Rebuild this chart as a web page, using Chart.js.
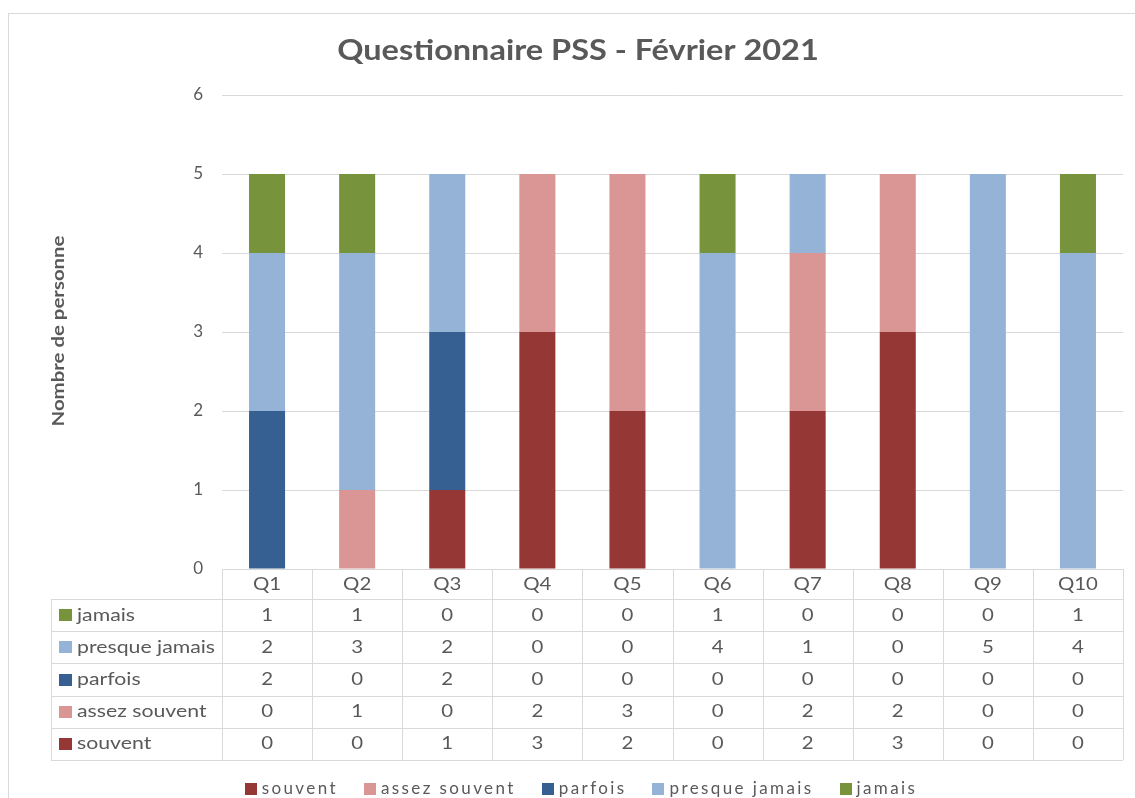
<!DOCTYPE html>
<html>
<head>
<meta charset="utf-8">
<script src="https://cdn.jsdelivr.net/npm/chart.js@4.4.1/dist/chart.umd.min.js"></script>
<style>
  html, body { margin: 0; padding: 0; background: #fff; }
  #wrap { width: 1135px; height: 798px; }
</style>
</head>
<body>
<div id="wrap"><canvas id="pssChart" width="1135" height="798"></canvas></div>
<script>
// categories and series
const questions = ['Q1', 'Q2', 'Q3', 'Q4', 'Q5', 'Q6', 'Q7', 'Q8', 'Q9', 'Q10'];
const souvent = [0, 0, 1, 3, 2, 0, 2, 3, 0, 0];
const assezSouvent = [0, 1, 0, 2, 3, 0, 2, 2, 0, 0];
const parfois = [2, 0, 2, 0, 0, 0, 0, 0, 0, 0];
const presqueJamais = [2, 3, 2, 0, 0, 4, 1, 0, 5, 4];
const jamais = [1, 1, 0, 0, 0, 1, 0, 0, 0, 1];
const yMin = 0;
const yMax = 6;
const yStep = 1;

const chartTitle = 'Questionnaire PSS - Février 2021';
const yTitle = 'Nombre de personne';

const textGray = '#595959';
const lineGray = '#d9d9d9';
const FONT = 'Lato, "Open Sans", sans-serif';

// the Excel export is a bit stretched sideways, so text gets a small x scale
function stretchText(ctx, text, x, y, align, sx) {
  ctx.save();
  ctx.translate(x, y);
  ctx.scale(sx, 1);
  ctx.textAlign = align;
  ctx.fillText(text, 0, 0);
  ctx.restore();
}

// draws frame, titles, the data table and the bottom legend
const excelExtras = {
  id: 'excelExtras',
  afterDraw(chart) {
    const ctx = chart.ctx;
    const area = chart.chartArea;
    const sets = chart.data.datasets;
    ctx.save();

    // outer frame
    ctx.strokeStyle = lineGray;
    ctx.lineWidth = 1;
    ctx.strokeRect(8.5, 13.5, 1300, 900);

    // title
    ctx.fillStyle = textGray;
    ctx.font = 'bold 28px ' + FONT;
    ctx.textBaseline = 'alphabetic';
    stretchText(ctx, chartTitle, 578, 60, 'center', 1.16);

    // y axis title
    ctx.save();
    ctx.translate(59, 331);
    ctx.rotate(-Math.PI / 2);
    ctx.font = 'bold 17px ' + FONT;
    ctx.textBaseline = 'middle';
    stretchText(ctx, yTitle, 0, 0, 'center', 1.2);
    ctx.restore();

    // data table
    const colW = (area.right - area.left) / questions.length;
    const headTop = area.bottom;
    const headH = 30;
    const rowH = 32.2;
    const tableLeft = 51;
    const rows = sets.slice().reverse();
    const tableBottom = headTop + headH + rowH * rows.length;

    ctx.strokeStyle = lineGray;
    ctx.beginPath();
    ctx.moveTo(area.left, headTop + 0.5);
    ctx.lineTo(area.right, headTop + 0.5);
    for (let i = 0; i <= questions.length; i++) {
      const x = Math.round(area.left + i * colW) + 0.5;
      ctx.moveTo(x, headTop);
      ctx.lineTo(x, tableBottom);
    }
    for (let r = 0; r <= rows.length; r++) {
      const y = Math.round(headTop + headH + r * rowH) + 0.5;
      ctx.moveTo(tableLeft, y);
      ctx.lineTo(area.right, y);
    }
    ctx.moveTo(tableLeft + 0.5, headTop + headH);
    ctx.lineTo(tableLeft + 0.5, tableBottom);
    ctx.stroke();

    ctx.font = '17px ' + FONT;
    ctx.textBaseline = 'middle';
    ctx.fillStyle = textGray;
    questions.forEach((q, i) => {
      stretchText(ctx, q, area.left + (i + 0.5) * colW, headTop + headH / 2 + 1, 'center', 1.2);
    });
    rows.forEach((ds, r) => {
      const cy = headTop + headH + (r + 0.5) * rowH;
      ctx.fillStyle = ds.backgroundColor;
      ctx.fillRect(59, Math.round(cy - 6), 13, 12);
      ctx.fillStyle = textGray;
      stretchText(ctx, ds.label, 77, cy, 'left', 1.25);
      ds.data.forEach((v, i) => {
        stretchText(ctx, String(v), area.left + (i + 0.5) * colW, cy, 'center', 1.2);
      });
    });

    // bottom legend
    ctx.font = '17px ' + FONT;
    ctx.letterSpacing = '2.4px';
    const box = 12, gapBox = 5, gapItem = 26;
    const widths = sets.map(ds => box + gapBox + ctx.measureText(ds.label).width);
    const total = widths.reduce((a, b) => a + b, 0) + gapItem * (sets.length - 1);
    let x = 581 - total / 2;
    const ly = 789;
    ctx.textAlign = 'left';
    sets.forEach((ds, i) => {
      ctx.fillStyle = ds.backgroundColor;
      ctx.fillRect(Math.round(x), ly - 6, box, box);
      ctx.fillStyle = textGray;
      ctx.fillText(ds.label, x + box + gapBox, ly);
      x += widths[i] + gapItem;
    });
    ctx.restore();
  }
};

new Chart(document.getElementById('pssChart'), {
  type: 'bar',
  data: {
    labels: questions,
    datasets: [
      { label: 'souvent', data: souvent, backgroundColor: '#953735' },
      { label: 'assez souvent', data: assezSouvent, backgroundColor: '#d99694' },
      { label: 'parfois', data: parfois, backgroundColor: '#366092' },
      { label: 'presque jamais', data: presqueJamais, backgroundColor: '#95b3d7' },
      { label: 'jamais', data: jamais, backgroundColor: '#77933c' }
    ]
  },
  options: {
    responsive: false,
    animation: false,
    devicePixelRatio: 1,
    layout: { padding: { left: 0, right: 12, top: 95, bottom: 229 } },
    datasets: { bar: { categoryPercentage: 0.8, barPercentage: 0.5 } },
    plugins: {
      legend: { display: false },
      title: { display: false },
      tooltip: { enabled: false }
    },
    scales: {
      x: { stacked: true, display: false },
      y: {
        stacked: true,
        min: yMin,
        max: yMax,
        afterFit(scale) { scale.width = 222; },
        ticks: { stepSize: yStep, color: textGray, padding: 19, font: { family: FONT, size: 17 } },
        grid: { color: lineGray, drawTicks: false },
        border: { display: false }
      }
    }
  },
  plugins: [excelExtras]
});
</script>
</body>
</html>
